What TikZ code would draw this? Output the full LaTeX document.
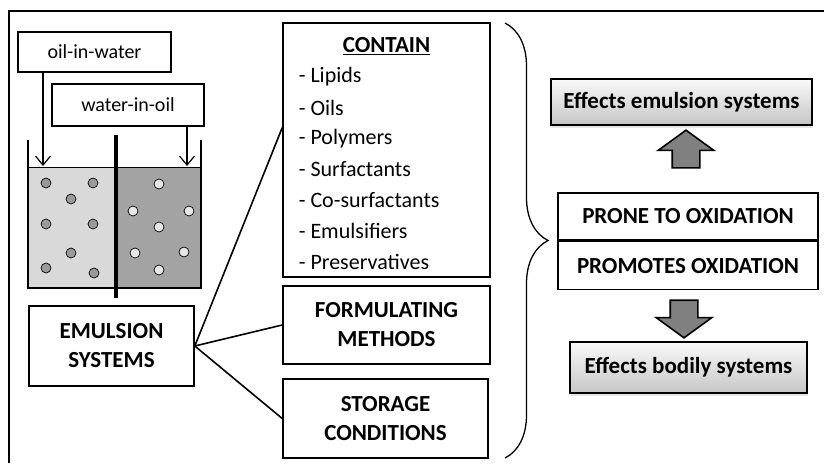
\documentclass[tikz,border=0pt]{standalone}
\usepackage{fontspec}
\setmainfont{Carlito}
\usepackage{tikz}
\usetikzlibrary{positioning, calc, arrows.meta, shapes.arrows, shadows, decorations.pathreplacing}

\begin{document}
\begin{tikzpicture}[x=1pt, y=-1pt, font=\fontsize{20}{24}\selectfont, align=center, line width=1.6pt,
    box/.style={draw, inner sep=0pt},
    head/.style={font=\fontsize{23}{29}\selectfont\bfseries},
    fxbox/.style={draw, inner sep=0pt, top color=gray!5, bottom color=gray!45, drop shadow={opacity=0.2, shadow xshift=1pt, shadow yshift=-3pt}},
    bigarrow/.style={single arrow, draw, fill=arrowgray, inner sep=13pt, single arrow head extend=14pt, single arrow tip angle=108, minimum height=36pt, anchor=center},
    >={Straight Barb[length=9pt, width=15pt]}]
        % Define colors
        \definecolor{lightfill}{HTML}{D9D9D9}
        \definecolor{darkfill}{HTML}{A3A3A3}
        \definecolor{dropdark}{HTML}{9A9A9A}
        \definecolor{droplight}{HTML}{E6E6E6}
        \definecolor{arrowgray}{HTML}{808080}

        \useasboundingbox (0,0) rectangle (824,463);
        \draw[line width=1.5pt] (9,463) -- (9,11) -- (824,11);

        % Container
        \fill[lightfill] (29,167) rectangle (116,287);
        \fill[darkfill] (116,167) rectangle (201,287);
        \draw[line width=0.8pt] (29,167) -- (201,167);
        \draw[line width=2.2pt] (28,140) -- (28,288) -- (201,288) -- (201,140);
        \foreach \x/\y in {46/183, 93/183, 71/199, 46/224, 93/224, 71/253, 46/268, 94/273} {
            \draw[fill=dropdark, line width=0.7pt] (\x,\y) circle (5pt);
        }
        \foreach \x/\y in {159/184, 133/211, 189/211, 159/227, 135/253, 184/252, 159/270} {
            \draw[fill=droplight, line width=0.7pt] (\x,\y) circle (5pt);
        }
        \draw[line width=4pt] (116,135) -- (116,298);

        % Nodes
        \node[box, minimum width=153pt, minimum height=40pt] (oilwater) at (94.5,52) {oil-in-water};
        \node[box, minimum width=152pt, minimum height=42pt] (wateroil) at (128,105) {water-in-oil};
        \coordinate (owtip) at (43,166);
        \coordinate (wotip) at (187,166);

        \node[box, head, minimum width=165pt, minimum height=80pt] (emulsion) at (111.5,346) {EMULSION\\SYSTEMS};

        \node[box, minimum width=207pt, minimum height=254pt] (contain) at (386.5,150) {};
        \node[head] (containhead) at (386.5,46) {\underline{CONTAIN}};
        \foreach \item [count=\k] in {Lipids, Oils, Polymers, Surfactants, Co-surfactants, Emulsifiers, Preservatives} {
            \node[anchor=west, inner sep=0pt, font=\fontsize{22}{26}\selectfont] (item\k) at (298,{46+30.8*\k}) {- \item};
        }
        \node[box, head, minimum width=207pt, minimum height=78pt] (formulating) at (386.5,325) {FORMULATING\\METHODS};
        \node[box, head, minimum width=205pt, minimum height=79pt] (storage) at (385.5,418.5) {STORAGE\\CONDITIONS};

        \node[fxbox, head, minimum width=261pt, minimum height=46pt] (fxemulsion) at (681.5,102) {Effects emulsion systems};
        \node[box, head, minimum width=260pt, minimum height=47pt] (prone) at (688,216.5) {PRONE TO OXIDATION};
        \node[box, head, minimum width=260pt, minimum height=48pt, below=0pt of prone] (promotes) {PROMOTES OXIDATION};
        \node[fxbox, head, minimum width=237pt, minimum height=51pt] (fxbodily) at (688.5,367.5) {Effects bodily systems};

        \node[bigarrow, rotate=90] (uparrow) at (686,154) {};
        \node[bigarrow, rotate=-90] (downarrow) at (684,314) {};

        % Edges
        \draw[->, line width=1.2pt] (oilwater.south -| owtip) -- (owtip);
        \draw[->, line width=1.2pt] (wateroil.south -| wotip) -- (wotip);
        \draw (emulsion.east) -- ($(contain.north west)!0.413!(contain.south west)$);
        \foreach \j in {formulating, storage} {
            \draw (emulsion.east) -- (\j.west);
        }
        \draw[decorate, decoration={brace, amplitude=43pt}, line width=1.3pt] (505,23) -- (505,458);
    \end{tikzpicture}
\end{document}
